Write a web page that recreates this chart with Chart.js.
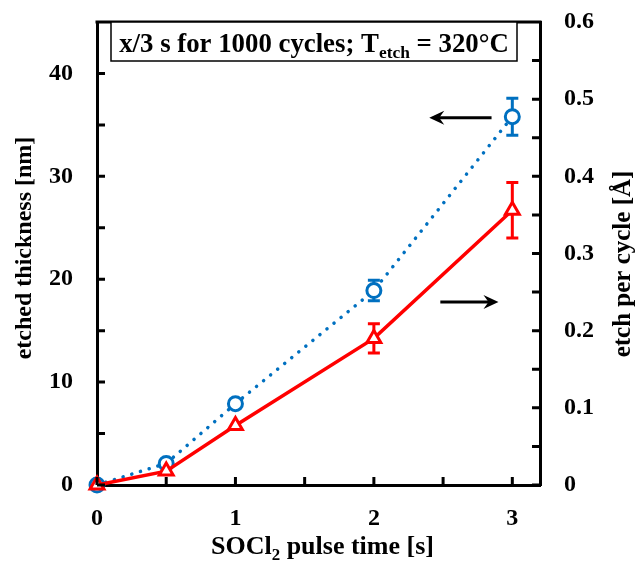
<!DOCTYPE html>
<html>
<head>
<meta charset="UTF-8">
<script src="https://cdn.jsdelivr.net/npm/chart.js"></script>
<style>
  body { margin: 0; background: #fff; }
  #wrap { width: 638px; height: 561px; }
</style>
</head>
<body>
<div id="wrap"><canvas id="chart"></canvas></div>
<script>
// values
const pulseTimes = [0, 0.5, 1, 2, 3];              // SOCl2 pulse time [s]
const thickness = [0, 2.1, 7.9, 18.9, 35.8];       // etched thickness [nm] (left axis)
const thicknessErr = [0, 0, 0, 1.0, 1.8];
const epc = [0, 0.018, 0.077, 0.19, 0.356];        // etch per cycle [Å] (right axis)
const epcErr = [0, 0, 0, 0.019, 0.036];

// tick labels
const xLabels = ['0', '1', '2', '3'];
const leftLabels = ['0', '10', '20', '30', '40'];
const rightLabels = ['0', '0.1', '0.2', '0.3', '0.4', '0.5', '0.6'];

// arrows pointing at the axis each series belongs to: [x from, x to, y value, axis]
const arrowLeft = [2.85, 2.4, 35.7, 'y'];
const arrowRight = [2.48, 2.9, 0.237, 'y2'];

const FONT = 'Liberation Serif';
const BLUE = 'rgb(0,112,192)';
const RED = '#ff0000';

const near = (a, b) => Math.abs(a - b) < 1e-7;
const pickLabel = (list) => (v) => {
    const hit = list.find(l => near(parseFloat(l), v));
    return hit === undefined ? '' : hit;
};
const onStep = (step) => (scale) => {
    scale.ticks = scale.ticks.filter(t => near(t.value / step, Math.round(t.value / step)));
};
// keep the plot frame where the figure has it: no extra room for edge labels
const fixSize = (prop, size) => (scale) => {
    scale[prop] = size;
    scale.paddingTop = 0; scale.paddingBottom = 0;
    scale.paddingLeft = 0; scale.paddingRight = 0;
};

const tickFont = { family: FONT, size: 24, weight: 'bold' };

function drawRich(ctx, parts, x, y, size, align) {
    let total = 0;
    parts.forEach(p => {
        ctx.font = 'bold ' + (p.sub ? size * 0.65 : size) + 'px ' + FONT;
        total += ctx.measureText(p.t).width;
    });
    let cx = align === 'center' ? x - total / 2 : x;
    ctx.textAlign = 'left';
    ctx.textBaseline = 'alphabetic';
    parts.forEach(p => {
        ctx.font = 'bold ' + (p.sub ? size * 0.65 : size) + 'px ' + FONT;
        ctx.fillText(p.t, cx, p.sub ? y + size * 0.22 : y);
        cx += ctx.measureText(p.t).width;
    });
    return total;
}

function drawArrow(ctx, x1, x2, y) {
    const dir = x2 > x1 ? 1 : -1;
    ctx.beginPath();
    ctx.moveTo(x1, y);
    ctx.lineTo(x2 - dir * 8, y);
    ctx.stroke();
    ctx.beginPath();
    ctx.moveTo(x2, y);
    ctx.lineTo(x2 - dir * 15, y - 7);
    ctx.lineTo(x2 - dir * 10, y);
    ctx.lineTo(x2 - dir * 15, y + 7);
    ctx.closePath();
    ctx.fill();
}

const decorations = {
    id: 'decorations',
    beforeDatasetsDraw(chart) {
        const ctx = chart.ctx;
        const xs = chart.scales.x;
        const sets = [
            [thickness, thicknessErr, chart.scales.y, BLUE],
            [epc, epcErr, chart.scales.y2, RED]
        ];
        ctx.save();
        ctx.lineWidth = 3;
        sets.forEach(([vals, errs, ys, col]) => {
            ctx.strokeStyle = col;
            vals.forEach((v, i) => {
                if (!errs[i]) return;
                const px = xs.getPixelForValue(pulseTimes[i]);
                const top = ys.getPixelForValue(v + errs[i]);
                const bot = ys.getPixelForValue(v - errs[i]);
                ctx.beginPath();
                ctx.moveTo(px, top); ctx.lineTo(px, bot);
                ctx.moveTo(px - 6, top); ctx.lineTo(px + 6, top);
                ctx.moveTo(px - 6, bot); ctx.lineTo(px + 6, bot);
                ctx.stroke();
            });
        });
        ctx.restore();
    },
    afterDraw(chart) {
        const ctx = chart.ctx;
        const area = chart.chartArea;
        const { x, y, y2 } = chart.scales;
        ctx.save();
        ctx.strokeStyle = '#000';
        ctx.fillStyle = '#000';
        ctx.lineWidth = 3;

        // inward tick marks
        ctx.beginPath();
        x.ticks.forEach(t => {
            const px = x.getPixelForValue(t.value);
            ctx.moveTo(px, area.bottom); ctx.lineTo(px, area.bottom - 8);
        });
        y.ticks.forEach(t => {
            const py = y.getPixelForValue(t.value);
            ctx.moveTo(area.left, py); ctx.lineTo(area.left + 8, py);
        });
        y2.ticks.forEach(t => {
            const py = y2.getPixelForValue(t.value);
            ctx.moveTo(area.right, py); ctx.lineTo(area.right - 8, py);
        });
        // top frame line
        ctx.moveTo(area.left - 1.5, area.top); ctx.lineTo(area.right + 1.5, area.top);
        ctx.stroke();

        // arrows
        drawArrow(ctx, x.getPixelForValue(arrowLeft[0]), x.getPixelForValue(arrowLeft[1]),
            chart.scales[arrowLeft[3]].getPixelForValue(arrowLeft[2]));
        drawArrow(ctx, x.getPixelForValue(arrowRight[0]), x.getPixelForValue(arrowRight[1]),
            chart.scales[arrowRight[3]].getPixelForValue(arrowRight[2]));

        // condition box
        ctx.lineWidth = 1.5;
        ctx.fillStyle = '#fff';
        ctx.fillRect(area.left + 14, area.top, 406, 39);
        ctx.strokeRect(area.left + 14, area.top, 406, 39);
        ctx.fillStyle = '#000';
        drawRich(ctx, [
            { t: 'x/3 s for 1000 cycles; T' },
            { t: 'etch', sub: true },
            { t: ' = 320°C' }
        ], area.left + 14 + 203, area.top + 30, 26.8, 'center');

        // axis titles
        drawRich(ctx, [
            { t: 'SOCl' }, { t: '2', sub: true }, { t: ' pulse time [s]' }
        ], (area.left + area.right) / 2 + 4, 554, 26, 'center');

        ctx.textAlign = 'center';
        ctx.textBaseline = 'alphabetic';
        ctx.font = 'bold 24px ' + FONT;
        ctx.save();
        ctx.translate(31, 248);
        ctx.rotate(-Math.PI / 2);
        ctx.fillText('etched thickness [nm]', 0, 0);
        ctx.restore();
        ctx.font = 'bold 25px ' + FONT;
        ctx.save();
        ctx.translate(630, 264);
        ctx.rotate(-Math.PI / 2);
        ctx.fillText('etch per cycle [Å]', 0, 0);
        ctx.restore();

        ctx.restore();
    }
};

new Chart(document.getElementById('chart'), {
    type: 'line',
    data: {
        datasets: [
            {
                label: 'etched thickness',
                data: pulseTimes.map((t, i) => ({ x: t, y: thickness[i] })),
                yAxisID: 'y',
                borderColor: BLUE,
                borderWidth: 3.5,
                borderDash: [0.1, 9],
                borderCapStyle: 'round',
                pointStyle: 'circle',
                pointRadius: 7,
                pointBorderWidth: 3,
                pointBorderColor: BLUE,
                pointBackgroundColor: '#fff',
                order: 2
            },
            {
                label: 'etch per cycle',
                data: pulseTimes.map((t, i) => ({ x: t, y: epc[i] })),
                yAxisID: 'y2',
                borderColor: RED,
                borderWidth: 3.5,
                pointStyle: 'triangle',
                pointRadius: 8,
                pointBorderWidth: 3,
                pointBorderColor: RED,
                pointBackgroundColor: '#fff',
                order: 1
            }
        ]
    },
    options: {
        responsive: true,
        maintainAspectRatio: false,
        animation: false,
        clip: false,
        layout: { padding: { top: 22, left: 0, right: 0, bottom: 0 } },
        plugins: { legend: { display: false }, tooltip: { enabled: false } },
        scales: {
            x: {
                type: 'linear',
                min: 0,
                max: 3.2,
                afterFit: fixSize('height', 76),
                afterBuildTicks: onStep(0.5),
                grid: { display: false, drawTicks: false },
                border: { display: true, color: '#000', width: 3 },
                ticks: {
                    stepSize: 0.5, includeBounds: false, autoSkip: false, maxRotation: 0, padding: 19,
                    color: '#000', font: tickFont, callback: pickLabel(xLabels)
                }
            },
            y: {
                position: 'left',
                min: 0,
                max: 45,
                afterFit: fixSize('width', 97),
                afterBuildTicks: onStep(5),
                grid: { display: false, drawTicks: false },
                border: { display: true, color: '#000', width: 3 },
                ticks: {
                    stepSize: 5, includeBounds: false, autoSkip: false, padding: 24,
                    color: '#000', font: tickFont, callback: pickLabel(leftLabels)
                }
            },
            y2: {
                position: 'right',
                min: 0,
                max: 0.6,
                afterFit: fixSize('width', 98),
                afterBuildTicks: onStep(0.05),
                grid: { display: false, drawTicks: false },
                border: { display: true, color: '#000', width: 3 },
                ticks: {
                    stepSize: 0.05, includeBounds: false, autoSkip: false, padding: 24,
                    color: '#000', font: tickFont, callback: pickLabel(rightLabels)
                }
            }
        }
    },
    plugins: [decorations]
});
</script>
</body>
</html>
